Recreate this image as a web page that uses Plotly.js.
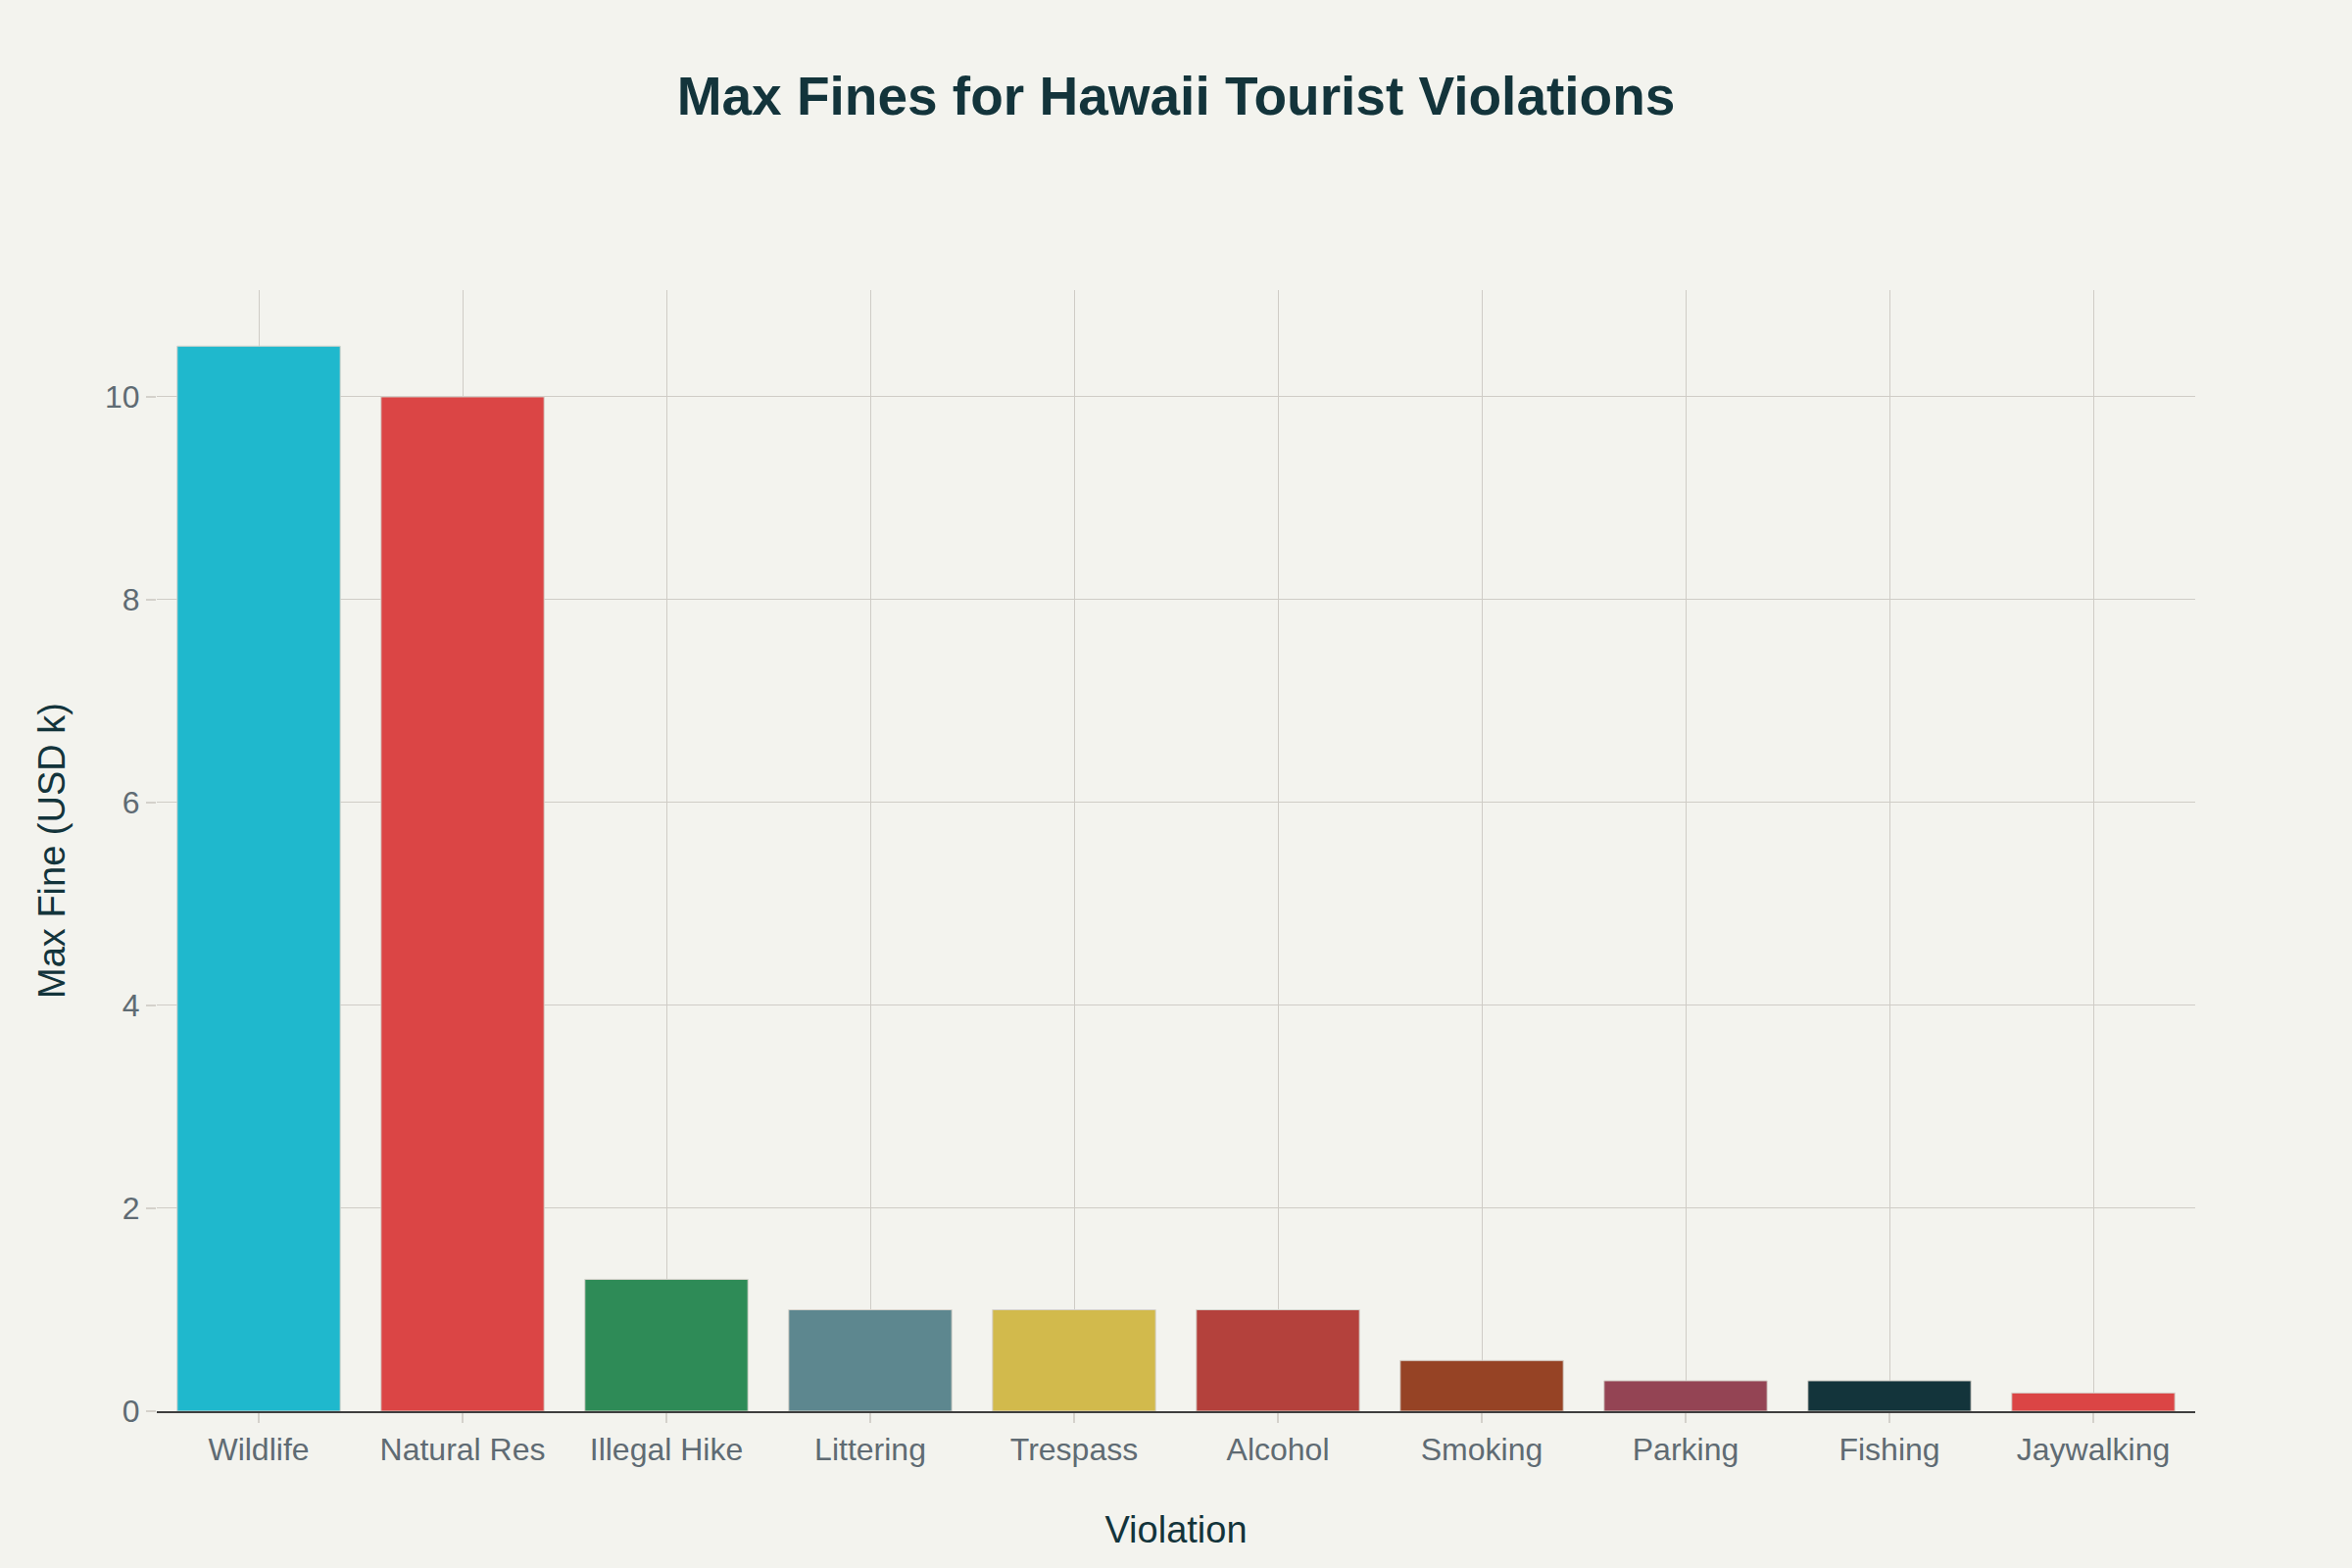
<!DOCTYPE html>
<html>
<head>
<meta charset="utf-8">
<script src="https://cdn.plot.ly/plotly-3.0.1.min.js"></script>
<style>html,body{margin:0;padding:0;background:#F3F3EE;}#chart{width:2400px;height:1600px;}</style>
</head>
<body>
<div id="chart"></div>
<script>
const categories = ["Wildlife", "Natural Res", "Illegal Hike", "Littering", "Trespass", "Alcohol", "Smoking", "Parking", "Fishing", "Jaywalking"];
const maxFineK = [10.5, 10, 1.3, 1, 1, 1, 0.5, 0.3, 0.3, 0.18];
const barColors = ["#1FB8CD", "#DB4545", "#2E8B57", "#5D878F", "#D2BA4C", "#B4413C", "#964325", "#944454", "#13343B", "#DB4545"];
const tickValsY = [0, 2, 4, 6, 8, 10];

const trace = {
  type: "bar",
  x: categories,
  y: maxFineK,
  marker: { color: barColors, line: { color: "#d6d2cb", width: 1 } },
  hoverinfo: "x+y"
};

const layout = {
  width: 2400,
  height: 1600,
  paper_bgcolor: "#F3F3EE",
  plot_bgcolor: "#F3F3EE",
  margin: { l: 160, r: 160, t: 296, b: 160, pad: 0 },
  showlegend: false,
  bargap: 0.2,
  font: { family: "Liberation Sans, Arial, sans-serif", color: "#5f6b73", size: 32 },
  title: {
    text: "<b>Max Fines for Hawaii Tourist Violations</b>",
    font: { family: "Liberation Sans, Arial, sans-serif", size: 55, color: "#13343B" },
    x: 0.5, xanchor: "center", xref: "paper",
    y: 1 - 98 / 1600, yanchor: "middle", yref: "container"
  },
  xaxis: {
    title: { text: "Violation", font: { size: 38, color: "#13343B" }, standoff: 51 },
    tickfont: { size: 32, color: "#5f6b73" },
    showgrid: true, gridcolor: "#cfccc6", gridwidth: 1,
    ticks: "outside", ticklen: 10, tickcolor: "#d4d1cb", tickwidth: 2,
    showline: true, linecolor: "#3e3e3e", linewidth: 2,
    automargin: false
  },
  yaxis: {
    title: { text: "Max Fine (USD k)", font: { size: 38, color: "#13343B" }, standoff: 28 },
    tickfont: { size: 32, color: "#5f6b73" },
    tickvals: tickValsY,
    showgrid: true, gridcolor: "#cfccc6", gridwidth: 1,
    ticks: "outside", ticklen: 10, tickcolor: "#d4d1cb", tickwidth: 2,
    zeroline: false, showline: false,
    automargin: false
  }
};

Plotly.newPlot("chart", [trace], layout, { displayModeBar: false, responsive: false });
</script>
</body>
</html>
